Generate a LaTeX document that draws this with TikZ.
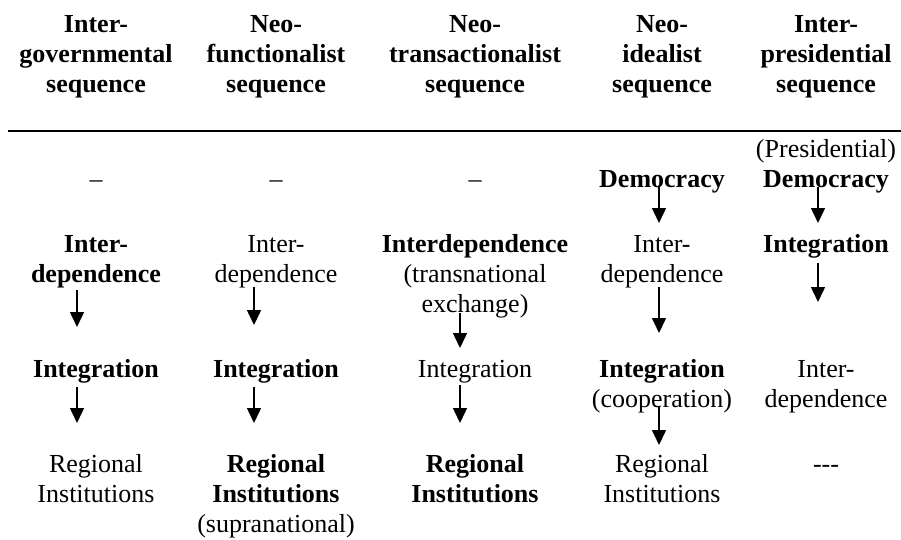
\documentclass[tikz,border=0pt]{standalone}
\usepackage{fontspec}
\setmainfont{Liberation Serif}
\usetikzlibrary{arrows.meta}
\begin{document}
\begin{tikzpicture}[x=1pt,y=-1pt,
  lbl/.style={align=center,inner sep=0pt,anchor=base,font=\fontsize{26}{30}\selectfont},
  hd/.style={lbl,font=\fontsize{26}{30}\selectfont\bfseries},
  flow/.style={line width=1.5pt,-{Triangle[width=14pt,length=15pt]}},
  rulel/.style={line width=2.6pt}]
\useasboundingbox (0,0) rectangle (901,540);
% headers (anchor = baseline of last line)
\node[hd] (h1) at (96,93) {Inter-\\governmental\\sequence};
\node[hd] (h2) at (276,93) {Neo-\\functionalist\\sequence};
\node[hd] (h3) at (475,93) {Neo-\\transactionalist\\sequence};
\node[hd] (h4) at (662,93) {Neo-\\idealist\\sequence};
\node[hd] (h5) at (826,93) {Inter-\\presidential\\sequence};
\coordinate (rl) at (8,131);
\coordinate (rr) at (901,131);
\draw[rulel] (rl) -- (rr);
% row 1
\node[lbl] (r1c1) at (96,187) {--};
\node[lbl] (r1c2) at (276,187) {--};
\node[lbl] (r1c3) at (475,187) {--};
\node[lbl] (r1c4) at (662,187) {\textbf{Democracy}};
\node[lbl] (r1c5) at (826,187) {(Presidential)\\\textbf{Democracy}};
% row 2
\node[lbl] (r2c1) at (96,282) {\textbf{Inter-}\\\textbf{dependence}};
\node[lbl] (r2c2) at (276,282) {Inter-\\dependence};
\node[lbl] (r2c3) at (475,312) {\textbf{Interdependence}\\(transnational\\exchange)};
\node[lbl] (r2c4) at (662,282) {Inter-\\dependence};
\node[lbl] (r2c5) at (826,252) {\textbf{Integration}};
% row 3
\node[lbl] (r3c1) at (96,377) {\textbf{Integration}};
\node[lbl] (r3c2) at (276,377) {\textbf{Integration}};
\node[lbl] (r3c3) at (475,377) {Integration};
\node[lbl] (r3c4) at (662,407) {\textbf{Integration}\\(cooperation)};
\node[lbl] (r3c5) at (826,407) {Inter-\\dependence};
% row 4
\node[lbl] (r4c1) at (96,502) {Regional\\Institutions};
\node[lbl] (r4c2) at (276,532) {\textbf{Regional}\\\textbf{Institutions}\\(supranational)};
\node[lbl] (r4c3) at (475,502) {\textbf{Regional}\\\textbf{Institutions}};
\node[lbl] (r4c4) at (662,502) {Regional\\Institutions};
\node[lbl] (r4c5) at (826,472) {-{}-{}-};
% arrow end points
\coordinate (a1s) at (77,290); \coordinate (a1e) at (77,327);
\coordinate (a2s) at (77,387); \coordinate (a2e) at (77,423);
\coordinate (b1s) at (254,287); \coordinate (b1e) at (254,325);
\coordinate (b2s) at (254,387); \coordinate (b2e) at (254,423);
\coordinate (c1s) at (460,313); \coordinate (c1e) at (460,348);
\coordinate (c2s) at (460,385); \coordinate (c2e) at (460,423);
\coordinate (d1s) at (659,187); \coordinate (d1e) at (659,223);
\coordinate (d2s) at (659,287); \coordinate (d2e) at (659,333);
\coordinate (d3s) at (659,407); \coordinate (d3e) at (659,445);
\coordinate (e1s) at (818,187); \coordinate (e1e) at (818,223);
\coordinate (e2s) at (818,263); \coordinate (e2e) at (818,302);
\foreach \p in {a1,a2,b1,b2,c1,c2,d1,d2,d3,e1,e2}
  \draw[flow] (\p s) -- (\p e);
\end{tikzpicture}
\end{document}
